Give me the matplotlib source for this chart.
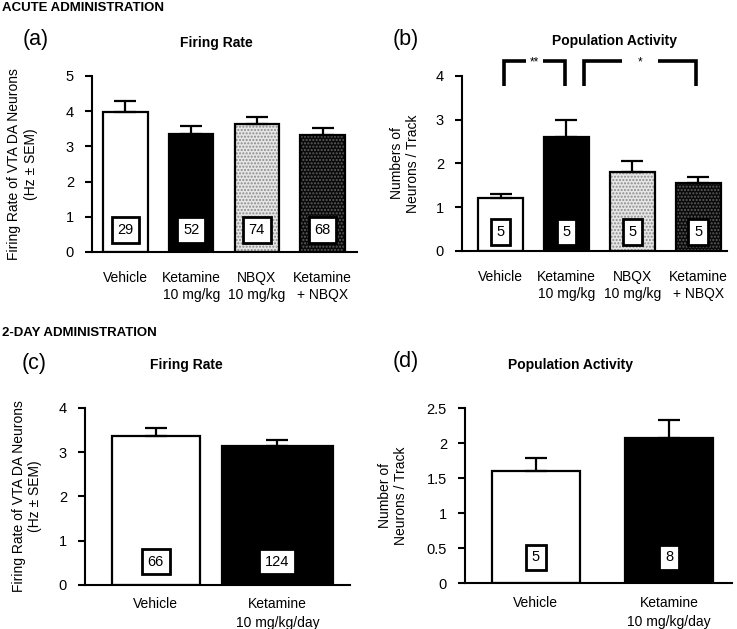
import numpy as np
import matplotlib
matplotlib.use("Agg")
import matplotlib.pyplot as plt

plt.rcParams['font.family'] = ['Liberation Sans', 'DejaVu Sans']

# acute administration
acute_groups = ['Vehicle', 'Ketamine\n10 mg/kg', 'NBQX\n10 mg/kg', 'Ketamine\n+ NBQX']
acute_rate = [3.97, 3.35, 3.63, 3.32]
acute_rate_sem = [0.33, 0.23, 0.20, 0.21]
acute_rate_n = [29, 52, 74, 68]
acute_pop = [1.21, 2.61, 1.80, 1.56]
acute_pop_sem = [0.09, 0.38, 0.25, 0.13]
acute_pop_n = [5, 5, 5, 5]
acute_pop_sig = [(0, 1, '**'), (1, 3, '*')]

# 2-day administration
twoday_groups = ['Vehicle', 'Ketamine\n10 mg/kg/day']
twoday_rate = [3.36, 3.15]
twoday_rate_sem = [0.19, 0.13]
twoday_rate_n = [66, 124]
twoday_pop = [1.61, 2.08]
twoday_pop_sem = [0.18, 0.25]
twoday_pop_n = [5, 8]

# fill, hatch, hatch colour for each group style
styles = {
    'white': ('white', None, 'white'),
    'black': ('black', None, 'black'),
    'light': ('#e6e6e6', '.....', '#8a8a8a'),
    'dark': ('#0a0a0a', '.....', '#5e5e5e'),
}


def bar_panel(ax, groups, vals, sem, n, kinds, xlim, ylim, yticks, widths, n_y, xpad, lsp):
    x = np.arange(len(vals))
    for i in range(len(vals)):
        face, hatch, hcol = styles[kinds[i]]
        ax.bar(x[i], vals[i], width=widths[i], color=face, hatch=hatch,
               edgecolor=hcol, linewidth=0, zorder=1)
    ax.bar(x, vals, width=widths, fill=False, edgecolor='black', linewidth=1.6, zorder=2)
    ax.errorbar(x, vals, yerr=[np.zeros(len(vals)), sem], fmt='none', ecolor='black',
                elinewidth=1.6, capsize=8, capthick=1.6, zorder=3)
    for i in range(len(vals)):
        ax.text(x[i], n_y, str(n[i]), ha='center', va='center', fontsize=10.5, zorder=4,
                bbox=dict(boxstyle='square,pad=0.4', fc='white', ec='black', lw=2))
    ax.set_xlim(*xlim)
    ax.set_ylim(*ylim)
    ax.set_yticks(yticks)
    ax.set_yticklabels([('%g' % t) for t in yticks])
    ax.set_xticks(x)
    ax.set_xticklabels(groups, fontsize=10, linespacing=lsp)
    ax.tick_params(axis='x', length=0, pad=xpad)
    ax.tick_params(axis='y', direction='out', length=5, width=1.5, labelsize=10.5, pad=8)
    for s in ['top', 'right']:
        ax.spines[s].set_visible(False)
    for s in ['left', 'bottom']:
        ax.spines[s].set_linewidth(1.5)


fig = plt.figure(figsize=(7.37, 6.29), dpi=100)

ax_a = fig.add_axes([0.1248, 0.5994, 0.3596, 0.2798])
bar_panel(ax_a, acute_groups, acute_rate, acute_rate_sem, acute_rate_n,
          ['white', 'black', 'light', 'dark'], (-0.51, 3.525), (0, 5), [0, 1, 2, 3, 4, 5],
          [0.68] * 4, 0.62, 14, 1.25)
ax_a.set_ylabel('Firing Rate of VTA DA Neurons\n(Hz ± SEM)', fontsize=10)
ax_a.yaxis.set_label_coords(-0.205, 0.5)

ax_b = fig.add_axes([0.6269, 0.601, 0.3596, 0.2782])
bar_panel(ax_b, acute_groups, acute_pop, acute_pop_sem, acute_pop_n,
          ['white', 'black', 'light', 'dark'], (-0.584, 3.435), (0, 4), [0, 1, 2, 3, 4],
          [0.68] * 4, 0.43, 14, 1.25)
ax_b.set_ylabel('Numbers of\nNeurons / Track', fontsize=10)
ax_b.yaxis.set_label_coords(-0.158, 0.5)

# significance brackets, top line broken around the stars
used = set()
for a, b, lab in acute_pop_sig:
    x0 = a + (0.26 if a in used else 0.05)
    x1 = b - 0.03
    used.add(b)
    mid = (x0 + x1) / 2
    gap = 0.13 if len(lab) > 1 else 0.28
    kw = dict(color='black', lw=2.6, solid_capstyle='butt', solid_joinstyle='miter',
              clip_on=False, zorder=5)
    ax_b.plot([x0, x0, mid - gap], [3.76, 4.34, 4.34], **kw)
    ax_b.plot([mid + gap, x1, x1], [4.34, 4.34, 3.76], **kw)
    ax_b.text(mid, 4.30, lab, ha='center', va='center', fontsize=8.5, zorder=6)

ax_c = fig.add_axes([0.1153, 0.07, 0.3596, 0.2814])
bar_panel(ax_c, twoday_groups, twoday_rate, twoday_rate_sem, twoday_rate_n,
          ['white', 'black'], (-0.582, 1.596), (0, 4), [0, 1, 2, 3, 4],
          [0.72, 0.92], 0.53, 9, 1.45)
ax_c.set_ylabel('Firing Rate of VTA DA Neurons\n(Hz ± SEM)', fontsize=10)
ax_c.yaxis.set_label_coords(-0.162, 0.5)

ax_d = fig.add_axes([0.631, 0.0726, 0.3619, 0.2782])
bar_panel(ax_d, twoday_groups, twoday_pop, twoday_pop_sem, twoday_pop_n,
          ['white', 'black'], (-0.531, 1.47), (0, 2.5), [0, 0.5, 1, 1.5, 2, 2.5],
          [0.66, 0.66], 0.37, 9, 1.45)
ax_d.set_ylabel('Number of\nNeurons / Track', fontsize=10)
ax_d.yaxis.set_label_coords(-0.214, 0.5)

# titles
ax_a.text(0.47, 1.19, 'Firing Rate', transform=ax_a.transAxes, ha='center', va='center',
          fontsize=10, fontweight='bold')
ax_b.text(0.577, 1.20, 'Population Activity', transform=ax_b.transAxes, ha='center',
          va='center', fontsize=10, fontweight='bold')
ax_c.text(0.384, 1.245, 'Firing Rate', transform=ax_c.transAxes, ha='center', va='center',
          fontsize=10, fontweight='bold')
ax_d.text(0.394, 1.247, 'Population Activity', transform=ax_d.transAxes, ha='center',
          va='center', fontsize=10, fontweight='bold')

# panel letters and section headers
W, H = 737.0, 629.0
for lab, px, py in [('(a)', 23, 40), ('(b)', 393, 40), ('(c)', 22, 363), ('(d)', 393, 362)]:
    fig.text(px / W, 1 - py / H, lab, ha='left', va='center', fontsize=15.5)
fig.text(2 / W, 1 - 8 / H, 'ACUTE ADMINISTRATION', ha='left', va='center',
         fontsize=9.5, fontweight='bold')
fig.text(2 / W, 1 - 333 / H, '2-DAY ADMINISTRATION', ha='left', va='center',
         fontsize=9.5, fontweight='bold')

fig.savefig('out.png', dpi=100)
